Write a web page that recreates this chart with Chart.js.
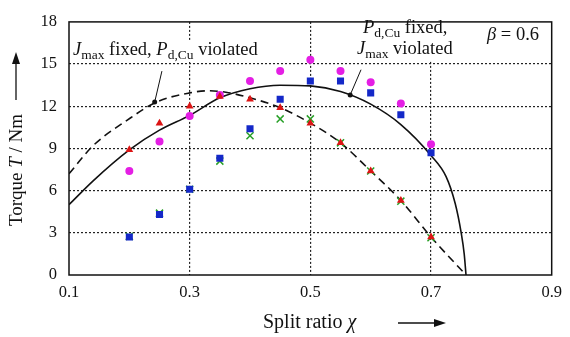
<!DOCTYPE html>
<html>
<head>
<meta charset="utf-8">
<script src="https://cdn.jsdelivr.net/npm/chart.js@4/dist/chart.umd.min.js"></script>
<style>
  html, body { margin: 0; padding: 0; background: #fff; }
  #wrap { width: 570px; height: 337px; }
</style>
</head>
<body>
<div id="wrap"><canvas id="torqueChart" width="570" height="337"></canvas></div>
<script>
// tick labels
const xTicks = [0.1, 0.3, 0.5, 0.7, 0.9];
const yTicks = [0, 3, 6, 9, 12, 15, 18];

// measured points (split ratio -> torque)
const splitRatio = [0.2, 0.25, 0.3, 0.35, 0.4, 0.45, 0.5, 0.55, 0.6, 0.65, 0.7];
const torqueCircle = [7.4, 9.5, 11.3, 12.8, 13.8, 14.5, 15.3, 14.5, 13.7, 12.2, 9.3];
const torqueSquare = [2.7, 4.3, 6.1, 8.3, 10.4, 12.5, 13.8, 13.8, 12.95, 11.4, 8.7];
const torqueTriangle = [8.9, 10.8, 12.0, 12.7, 12.5, 11.9, 10.8, 9.4, 7.4, 5.3, 2.7];
const torqueCross = [2.75, 4.4, 6.1, 8.1, 9.9, 11.1, 11.1, 9.4, 7.4, 5.25, 2.65];

// P_d,Cu fixed, J_max violated (solid)
const solidX = [0.1, 0.14, 0.2, 0.25, 0.3, 0.35, 0.4, 0.45, 0.5, 0.55, 0.6, 0.65, 0.7, 0.725, 0.74, 0.75, 0.755, 0.758];
const solidY = [5.0, 6.7, 8.9, 10.3, 11.35, 12.6, 13.25, 13.5, 13.45, 13.05, 12.15, 10.7, 8.5, 7.0, 5.1, 3.0, 1.5, 0];

// J_max fixed, P_d,Cu violated (dashed)
const dashX = [0.1, 0.14, 0.196, 0.245, 0.3, 0.33, 0.36, 0.4, 0.45, 0.5, 0.55, 0.6, 0.65, 0.7, 0.758];
const dashY = [7.2, 9.2, 11.0, 12.3, 12.95, 13.1, 13.0, 12.6, 11.9, 10.8, 9.4, 7.4, 5.3, 2.7, 0];

// marked points on the curves + leader lines to the labels
const markX = [0.242, 0.566];
const markY = [12.3, 12.8];
const leaderLeftX = [0.254, 0.242];
const leaderLeftY = [14.5, 12.3];
const leaderRightX = [0.584, 0.566];
const leaderRightY = [14.6, 12.8];

const pts = (xs, ys) => xs.map((x, i) => ({ x: x, y: ys[i] }));

const SERIF = "'Liberation Serif', 'Times New Roman', serif";

// draws a row of text pieces (italic / subscript) and returns its width
function drawRuns(ctx, runs, x, y, doDraw, base, sub) {
  base = base || 18.5;
  sub = sub || 13.5;
  let cx = x;
  runs.forEach(r => {
    const size = r.sub ? sub : base;
    ctx.font = (r.it ? 'italic ' : '') + size + 'px ' + SERIF;
    if (doDraw) ctx.fillText(r.t, cx, y + (r.sub ? 4 : 0));
    cx += ctx.measureText(r.t).width;
  });
  return cx - x;
}

const labelLeft = [{ t: 'J', it: true }, { t: 'max', sub: true }, { t: ' fixed, ' }, { t: 'P', it: true }, { t: 'd,Cu', sub: true }, { t: ' violated' }];
const labelRight1 = [{ t: 'P', it: true }, { t: 'd,Cu', sub: true }, { t: ' fixed,' }];
const labelRight2 = [{ t: 'J', it: true }, { t: 'max', sub: true }, { t: ' violated' }];
const labelBeta = [{ t: 'β', it: true }, { t: ' = 0.6' }];

const annotations = [
  { runs: labelLeft, x: 73, y: 55 },
  { runs: labelRight1, x: 363, y: 33 },
  { runs: labelRight2, x: 357, y: 54 },
  { runs: labelBeta, x: 487, y: 40 },
];

const textPlugin = {
  id: 'textPlugin',
  beforeDatasetsDraw(chart) {
    const ctx = chart.ctx;
    ctx.save();
    ctx.fillStyle = '#fff';
    annotations.forEach(a => {
      const w = drawRuns(ctx, a.runs, a.x, a.y, false);
      ctx.fillRect(a.x - 4, a.y - 15, w + 8, 22);
    });
    ctx.restore();
  },
  afterDraw(chart) {
    const ctx = chart.ctx;
    const area = chart.chartArea;
    ctx.save();
    // frame
    ctx.strokeStyle = '#111';
    ctx.lineWidth = 1.5;
    ctx.strokeRect(area.left, area.top, area.right - area.left, area.bottom - area.top);

    ctx.fillStyle = '#111';
    ctx.textBaseline = 'alphabetic';
    annotations.forEach(a => drawRuns(ctx, a.runs, a.x, a.y, true));

    // x title + arrow
    drawRuns(ctx, [{ t: 'Split ratio ' }, { t: 'χ', it: true }], 263, 328, true, 20);
    ctx.lineWidth = 1.3;
    ctx.beginPath();
    ctx.moveTo(398, 323); ctx.lineTo(436, 323);
    ctx.stroke();
    ctx.beginPath();
    ctx.moveTo(446, 323); ctx.lineTo(434, 319); ctx.lineTo(434, 327); ctx.closePath();
    ctx.fill();

    // y title + arrow
    ctx.save();
    ctx.translate(22, 170);
    ctx.rotate(-Math.PI / 2);
    const yt = [{ t: 'Torque ' }, { t: 'T', it: true }, { t: ' / Nm' }];
    const w = drawRuns(ctx, yt, 0, 0, false, 19);
    drawRuns(ctx, yt, -w / 2, 0, true, 19);
    ctx.restore();
    ctx.beginPath();
    ctx.moveTo(16, 100); ctx.lineTo(16, 62);
    ctx.stroke();
    ctx.beginPath();
    ctx.moveTo(16, 52); ctx.lineTo(12, 64); ctx.lineTo(20, 64); ctx.closePath();
    ctx.fill();
    ctx.restore();
  }
};

const markerSet = (data, style, color, r, order) => ({
  data: data,
  showLine: false,
  pointStyle: style,
  pointRadius: r,
  pointHoverRadius: r,
  backgroundColor: color,
  borderColor: color,
  borderWidth: style === 'crossRot' ? 1.5 : 0,
  order: order,
});

const lineSet = (data, dash, width, order) => ({
  data: data,
  showLine: true,
  borderColor: '#111',
  borderWidth: width,
  borderDash: dash,
  pointRadius: 0,
  cubicInterpolationMode: 'monotone',
  fill: false,
  order: order,
});

new Chart(document.getElementById('torqueChart'), {
  type: 'scatter',
  data: {
    datasets: [
      markerSet(pts(splitRatio, torqueCross), 'crossRot', 'rgb(40,160,40)', 5, 6),
      markerSet(pts(splitRatio, torqueCircle), 'circle', 'rgb(228,30,228)', 4, 5),
      markerSet(pts(splitRatio, torqueTriangle), 'triangle', 'rgb(220,20,20)', 4.5, 4),
      markerSet(pts(splitRatio, torqueSquare), 'rect', 'rgb(20,40,200)', 5, 3),
      markerSet(pts(markX, markY), 'circle', '#111', 2.5, 1),
      lineSet(pts(solidX, solidY), [], 1.6, 10),
      lineSet(pts(dashX, dashY), [8, 5], 1.6, 10),
      lineSet(pts(leaderLeftX, leaderLeftY), [], 1, 9),
      lineSet(pts(leaderRightX, leaderRightY), [], 1, 9),
    ]
  },
  options: {
    responsive: false,
    animation: false,
    devicePixelRatio: 1,
    layout: { padding: { top: 12, right: 17, left: 0, bottom: 0 } },
    plugins: { legend: { display: false }, tooltip: { enabled: false } },
    scales: {
      x: {
        type: 'linear',
        min: 0.1,
        max: 0.9,
        afterBuildTicks: s => { s.ticks = xTicks.map(v => ({ value: v })); },
        afterFit: s => { s.height = 62; },
        ticks: {
          callback: v => v.toFixed(1),
          color: '#111',
          font: { family: SERIF, size: 16.5 },
          padding: 8,
          maxRotation: 0,
        },
        grid: {
          drawTicks: false,
          lineWidth: 1.2,
          color: c => (c.tick && (c.tick.value === 0.1 || c.tick.value === 0.9)) ? 'rgba(0,0,0,0)' : '#222',
        },
        border: { display: false, dash: [2, 2] },
      },
      y: {
        type: 'linear',
        min: 0,
        max: 18,
        afterBuildTicks: s => { s.ticks = yTicks.map(v => ({ value: v })); },
        afterFit: s => { s.width = 69; },
        ticks: {
          color: '#111',
          font: { family: SERIF, size: 16.5 },
          padding: 12,
        },
        grid: {
          drawTicks: false,
          lineWidth: 1.2,
          color: c => (c.tick && (c.tick.value === 0 || c.tick.value === 18)) ? 'rgba(0,0,0,0)' : '#222',
        },
        border: { display: false, dash: [2, 2] },
      },
    },
  },
  plugins: [textPlugin],
});
</script>
</body>
</html>
